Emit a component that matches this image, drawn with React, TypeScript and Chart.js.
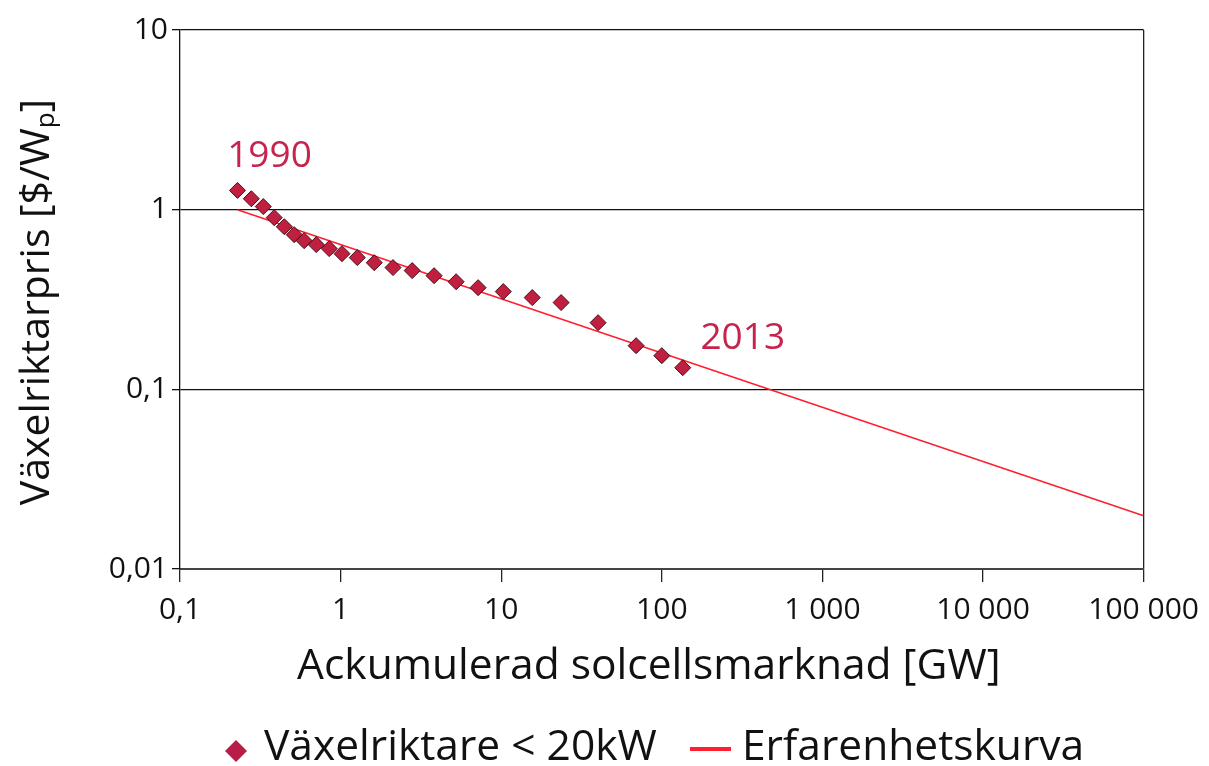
import React, { useEffect, useRef } from 'react';
import { Chart, registerables } from 'chart.js';

Chart.register(...registerables);

// ---- data ----
const cumulativeGW = [0.228, 0.278, 0.33, 0.386, 0.446, 0.514, 0.593, 0.705, 0.849, 1.02, 1.27, 1.62, 2.12, 2.79, 3.82, 5.24, 7.18, 10.3, 15.6, 23.6, 40.1, 69.2, 100, 135];
const inverterPrice = [1.28, 1.15, 1.04, 0.903, 0.804, 0.726, 0.672, 0.639, 0.607, 0.569, 0.541, 0.507, 0.476, 0.458, 0.429, 0.397, 0.368, 0.35, 0.324, 0.304, 0.235, 0.175, 0.154, 0.132];
const curveGW = [0.228, 100000];
const curvePrice = [1.0, 0.0198];
const xTickValues = [0.1, 1, 10, 100, 1000, 10000, 100000];
const xTickLabels = ['0,1', '1', '10', '100', '1 000', '10 000', '100 000'];
const yTickValues = [0.01, 0.1, 1, 10];
const yTickLabels = ['0,01', '0,1', '1', '10'];
const firstYear = '1990';
const lastYear = '2013';
const seriesName = 'Växelriktare < 20kW';
const curveName = 'Erfarenhetskurva';
const xTitle = 'Ackumulerad solcellsmarknad [GW]';
const yTitleMain = 'Växelriktarpris [$/W';
const yTitleSub = 'p';
const yTitleEnd = ']';

const FONT = "'Open Sans', sans-serif";
const MARKER_FILL = '#c01f40';
const MARKER_BORDER = '#4a0d18';
const CURVE_COLOR = '#ff1f2e';
const ANNOT_COLOR = '#c7234c';
const TEXT_COLOR = '#111111';

const overlayPlugin = {
  id: 'overlay',
  afterDraw(chart: any) {
    const ctx = chart.ctx as CanvasRenderingContext2D;
    const xs = chart.scales.x;
    const ys = chart.scales.y;
    const area = chart.chartArea;
    ctx.save();

    // annotations
    ctx.fillStyle = ANNOT_COLOR;
    ctx.font = `37px ${FONT}`;
    ctx.textAlign = 'center';
    ctx.textBaseline = 'middle';
    const fx = xs.getPixelForValue(cumulativeGW[0]);
    const fy = ys.getPixelForValue(inverterPrice[0]);
    ctx.fillText(firstYear, fx + 32, fy - 34);
    const n = cumulativeGW.length - 1;
    const lx = xs.getPixelForValue(cumulativeGW[n]);
    const ly = ys.getPixelForValue(inverterPrice[n]);
    ctx.fillText(lastYear, lx + 60, ly - 29);

    // x title
    ctx.fillStyle = TEXT_COLOR;
    ctx.font = `42.5px ${FONT}`;
    ctx.fillText(xTitle, (area.left + area.right) / 2 - 13, 667);

    // y title (rotated with subscript)
    ctx.save();
    ctx.translate(37, 302);
    ctx.rotate(-Math.PI / 2);
    ctx.textAlign = 'left';
    ctx.textBaseline = 'middle';
    const mainFont = `41px ${FONT}`;
    const subFont = `26px ${FONT}`;
    ctx.font = mainFont;
    const w1 = ctx.measureText(yTitleMain).width;
    ctx.font = subFont;
    const w2 = ctx.measureText(yTitleSub).width;
    ctx.font = mainFont;
    const w3 = ctx.measureText(yTitleEnd).width;
    const total = w1 + w2 + w3;
    let cx = -total / 2;
    ctx.fillText(yTitleMain, cx, 0);
    cx += w1;
    ctx.font = subFont;
    ctx.fillText(yTitleSub, cx, 10);
    cx += w2;
    ctx.font = mainFont;
    ctx.fillText(yTitleEnd, cx, 0);
    ctx.restore();

    // legend
    const legY = 748;
    ctx.font = `42.5px ${FONT}`;
    ctx.textAlign = 'left';
    ctx.textBaseline = 'middle';
    // diamond
    ctx.fillStyle = '#b81d48';
    ctx.beginPath();
    ctx.moveTo(236, legY + 3 - 11);
    ctx.lineTo(247, legY + 3);
    ctx.lineTo(236, legY + 3 + 11);
    ctx.lineTo(225, legY + 3);
    ctx.closePath();
    ctx.fill();
    ctx.fillStyle = TEXT_COLOR;
    ctx.fillText(seriesName, 264, legY);
    // line
    ctx.strokeStyle = CURVE_COLOR;
    ctx.lineWidth = 4;
    ctx.beginPath();
    ctx.moveTo(690, legY + 1);
    ctx.lineTo(731, legY + 1);
    ctx.stroke();
    ctx.fillText(curveName, 742, legY);

    ctx.restore();
  },
};

export default function App() {
  const ref = useRef<HTMLCanvasElement | null>(null);
  useEffect(() => {
    document.body.style.margin = '0';
    if (!ref.current) return;
    const chart = new Chart(ref.current, {
      type: 'scatter',
      data: {
        datasets: [
          {
            label: seriesName,
            data: cumulativeGW.map((x, i) => ({ x, y: inverterPrice[i] })),
            pointStyle: 'rectRot',
            pointRadius: 8,
            backgroundColor: MARKER_FILL,
            borderColor: MARKER_BORDER,
            borderWidth: 1,
            showLine: false,
          },
          {
            label: curveName,
            data: curveGW.map((x, i) => ({ x, y: curvePrice[i] })),
            showLine: true,
            borderColor: CURVE_COLOR,
            borderWidth: 1.6,
            pointRadius: 0,
            fill: false,
          },
        ],
      },
      options: {
        responsive: false,
        animation: false,
        layout: { padding: { top: 30, right: 65, bottom: 0, left: 0 } },
        plugins: { legend: { display: false }, tooltip: { enabled: false } },
        scales: {
          x: {
            type: 'logarithmic',
            min: 0.1,
            max: 100000,
            afterBuildTicks: (s: any) => {
              s.ticks = xTickValues.map((v) => ({ value: v }));
            },
            afterFit: (s: any) => {
              s.height = 197;
            },
            ticks: {
              autoSkip: false,
              maxRotation: 0,
              minRotation: 0,
              padding: 10,
              color: TEXT_COLOR,
              font: { family: FONT, size: 30 },
              callback: (_v: any, i: number) => xTickLabels[i],
            },
            grid: {
              drawOnChartArea: true,
              color: (c: any) => (c.tick && c.tick.value === 100000 ? '#222' : 'rgba(0,0,0,0)'),
              tickColor: '#222',
              tickLength: 13,
              lineWidth: 1.3,
            },
            border: { display: true, color: '#444', width: 2 },
          },
          y: {
            type: 'logarithmic',
            min: 0.01,
            max: 10,
            afterBuildTicks: (s: any) => {
              s.ticks = yTickValues.map((v) => ({ value: v }));
            },
            afterFit: (s: any) => {
              s.width = 180;
            },
            ticks: {
              autoSkip: false,
              padding: 4,
              color: TEXT_COLOR,
              font: { family: FONT, size: 30 },
              callback: (_v: any, i: number) => yTickLabels[i],
            },
            grid: {
              color: '#111',
              tickColor: '#111',
              tickLength: 8,
              lineWidth: 1.3,
            },
            border: { display: true, color: '#111', width: 1.3 },
          },
        },
      },
      plugins: [overlayPlugin],
    } as any);
    return () => chart.destroy();
  }, []);
  return (
    <div style={{ position: 'fixed', left: 0, top: 0, width: 1209, height: 766, background: '#fff' }}>
      <canvas ref={ref} width={1209} height={766} />
    </div>
  );
}
